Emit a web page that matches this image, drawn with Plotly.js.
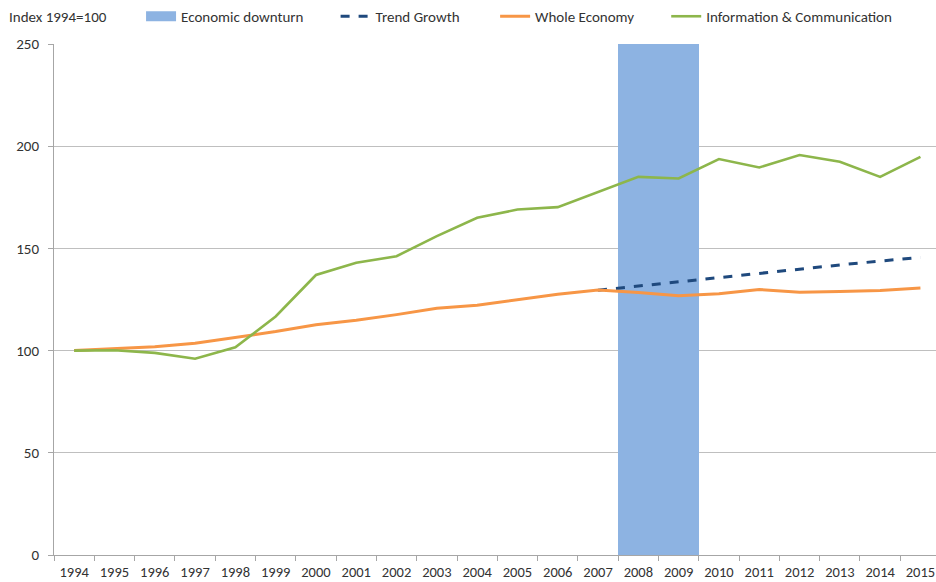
<!DOCTYPE html>
<html>
<head>
<meta charset="utf-8">
<script src="https://cdn.plot.ly/plotly-3.0.1.min.js"></script>
<style>html,body{margin:0;padding:0;background:#fff;}#chart{width:936px;height:582px;}</style>
</head>
<body>
<div id="chart"></div>
<script>
const years = ['1994','1995','1996','1997','1998','1999','2000','2001','2002','2003','2004','2005','2006','2007','2008','2009','2010','2011','2012','2013','2014','2015'];
const downturnYears = ['2008','2009'];
const downturnValues = [250, 250];
const trendYears = ['2007','2008','2009','2010','2011','2012','2013','2014','2015'];
const trendValues = [129.5, 131.6, 133.6, 135.7, 137.8, 139.9, 141.9, 143.8, 145.6];
const wholeEconomy = [100, 100.8, 101.9, 103.6, 106.3, 109.3, 112.6, 114.8, 117.6, 120.7, 122.2, 124.8, 127.6, 129.6, 128.4, 126.8, 127.8, 129.9, 128.6, 128.9, 129.4, 130.6];
const infoComm = [100, 100.2, 98.9, 96.0, 101.6, 116.7, 137.0, 143.0, 146.2, 156.0, 165.0, 169.0, 170.2, 177.5, 185.0, 184.2, 193.7, 189.6, 195.7, 192.4, 185.0, 194.8];
const seriesNames = ['Economic downturn', 'Trend Growth', 'Whole Economy', 'Information & Communication'];

const font = "Carlito, 'Liberation Sans Narrow', 'DejaVu Sans Condensed', Arial, sans-serif";
const pad = n => '\u00A0'.repeat(n);
const downturnColor = '#8DB3E2';

const traces = [
  {type:'bar', name:seriesNames[0], x:downturnYears, y:downturnValues, showlegend:false,
   marker:{color:downturnColor, line:{width:0}}, hoverinfo:'skip'},
  // legend-only entry so the swatch is a wide rectangle as in the reference
  {type:'scatter', mode:'lines', name:seriesNames[0] + pad(8), x:[null], y:[null],
   line:{color:downturnColor, width:10}},
  {type:'scatter', mode:'lines', name:seriesNames[1] + pad(9), x:trendYears, y:trendValues,
   line:{color:'#1F497D', width:3, dash:'dash'}},
  {type:'scatter', mode:'lines', name:seriesNames[2] + pad(8), x:years, y:wholeEconomy,
   line:{color:'#F79646', width:3}},
  {type:'scatter', mode:'lines', name:seriesNames[3], x:years, y:infoComm,
   line:{color:'#8DB64B', width:2.6}}
];

const layout = {
  width:936, height:582,
  margin:{l:54, r:0, t:44, b:27},
  paper_bgcolor:'#fff', plot_bgcolor:'#fff',
  font:{family:font, size:15, color:'#333'},
  bargap:0,
  showlegend:true,
  legend:{orientation:'h', x:0.0987, xanchor:'left', y:1.0, yref:'container', yanchor:'top',
          font:{family:font, size:15, color:'#333'}, bgcolor:'rgba(0,0,0,0)',
          itemwidth:30, traceorder:'normal'},
  xaxis:{type:'category', categoryorder:'array', categoryarray:years,
         range:[-0.5, 21.386], showgrid:false, showline:true, linecolor:'#A6A6A6', linewidth:1,
         ticks:'outside', tickson:'boundaries', ticklen:5, tickcolor:'#A6A6A6', ticklabelstandoff:4,
         tickfont:{family:font, size:14.5, color:'#333'}, fixedrange:true, zeroline:false},
  yaxis:{range:[0,250], tickvals:[0,50,100,150,200,250], showgrid:true, gridcolor:'#BFBFBF', gridwidth:1,
         showline:true, linecolor:'#A6A6A6', linewidth:1, ticks:'outside', ticklen:5, tickcolor:'#A6A6A6',
         ticklabelstandoff:6,
         tickfont:{family:font, size:15, color:'#333'}, zeroline:false, fixedrange:true},
  annotations:[{text:'Index 1994=100', xref:'paper', yref:'paper', x:-0.053, y:1.0, yshift:27,
                xanchor:'left', yanchor:'middle', showarrow:false,
                font:{family:font, size:15, color:'#333'}}]
};

Plotly.newPlot('chart', traces, layout, {displayModeBar:false, staticPlot:true});
</script>
</body>
</html>
